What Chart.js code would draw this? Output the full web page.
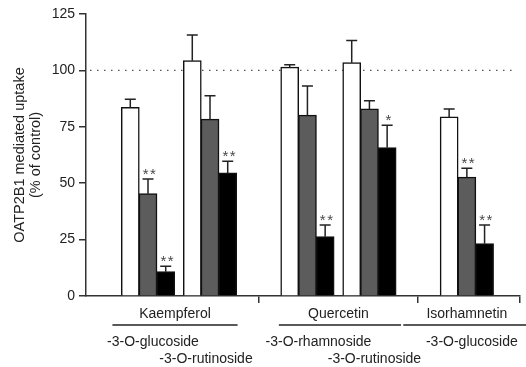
<!DOCTYPE html>
<html>
<head>
<meta charset="utf-8">
<script src="https://cdn.jsdelivr.net/npm/chart.js@4.4.1/dist/chart.umd.min.js"></script>
<style>
  html, body { margin: 0; padding: 0; background: #fff; }
  #wrap { width: 526px; height: 367px; position: relative; }
</style>
</head>
<body>
<div id="wrap"><canvas id="chart-uptake"></canvas></div>
<script>
// data (% of control, mean and upper error)
const aglycones = ['Kaempferol', 'Quercetin', 'Isorhamnetin'];
const glycosides = ['-3-O-glucoside', '-3-O-rutinoside', '-3-O-rhamnoside', '-3-O-rutinoside', '-3-O-glucoside'];
const glycosideOf = [0, 0, 1, 1, 2];

const lowValues = [83.5, 104.3, 101.4, 103.4, 79.3];
const lowErr = [3.7, 11.4, 1.1, 9.9, 3.6];
const midValues = [45.3, 78.3, 80.1, 82.9, 52.6];
const midErr = [6.6, 10.5, 13.0, 3.7, 4.0];
const highValues = [10.8, 54.5, 26.3, 65.7, 23.2];
const highErr = [2.4, 5.2, 5.2, 10.0, 8.3];
const lowSig = ['', '', '', '', ''];
const midSig = ['**', '', '', '', '**'];
const highSig = ['**', '**', '**', '*', '**'];

const yTicks = [0, 25, 50, 75, 100, 125];
const controlLevel = 100;

const FONT = 'Liberation Sans, Arial, Helvetica, sans-serif';
const INK = '#222';

// x is measured in bar widths: half a bar between glycosides, 2.5 bars between aglycones
const groupX = glycosides.map((g, i) => 3.5 + 3.5 * i + 2 * glycosideOf[i]);
const boundaries = [];
for (let a = 1; a < aglycones.length; a++) {
  const first = glycosideOf.indexOf(a);
  boundaries.push((groupX[first - 1] + groupX[first]) / 2);
}
const X_MAX = 24.5;
boundaries.push(X_MAX);

function series(label, values, err, sig, color) {
  return {
    label,
    data: groupX.map((x, i) => ({ x, y: values[i] })),
    err,
    sig,
    backgroundColor: color,
    borderColor: '#111',
    borderWidth: 1.5,
    inflateAmount: 0.5,
    barPercentage: 1,
    categoryPercentage: 3 / 3.5
  };
}

const errorBars = {
  id: 'errorBars',
  afterDatasetsDraw(chart) {
    const ctx = chart.ctx;
    const y = chart.scales.y;
    ctx.save();
    ctx.strokeStyle = INK;
    ctx.lineWidth = 1.5;
    chart.data.datasets.forEach((ds, di) => {
      const meta = chart.getDatasetMeta(di);
      meta.data.forEach((bar, i) => {
        const top = y.getPixelForValue(ds.data[i].y + ds.err[i]);
        ctx.beginPath();
        ctx.moveTo(bar.x, bar.y);
        ctx.lineTo(bar.x, top);
        ctx.moveTo(bar.x - 5.5, top);
        ctx.lineTo(bar.x + 5.5, top);
        ctx.stroke();
        if (ds.sig[i]) {
          ctx.fillStyle = '#484848';
          ctx.font = '15px ' + FONT;
          ctx.letterSpacing = '1.5px';
          ctx.textAlign = 'center';
          ctx.textBaseline = 'alphabetic';
          ctx.fillText(ds.sig[i], bar.x + 2, top);
        }
      });
    });
    ctx.restore();
  }
};

const controlLine = {
  id: 'controlLine',
  beforeDatasetsDraw(chart) {
    const { ctx, chartArea } = chart;
    const yy = chart.scales.y.getPixelForValue(controlLevel);
    ctx.save();
    ctx.strokeStyle = '#555';
    ctx.lineWidth = 1.2;
    ctx.setLineDash([1.5, 5.5]);
    ctx.beginPath();
    ctx.moveTo(chartArea.left + 4, yy);
    ctx.lineTo(chartArea.right - 8, yy);
    ctx.stroke();
    ctx.restore();
  }
};

const groupLabels = {
  id: 'groupLabels',
  afterDraw(chart) {
    const ctx = chart.ctx;
    const x = chart.scales.x;
    const unit = x.getPixelForValue(1) - x.getPixelForValue(0);
    const linePad = [[9, 1], [2, 5], [37, 34]];
    const nudge = [5, -4, 11, 5, 5];
    ctx.save();
    ctx.fillStyle = INK;
    ctx.strokeStyle = INK;
    ctx.lineWidth = 1.3;
    ctx.font = '14px ' + FONT;
    ctx.textAlign = 'center';
    ctx.textBaseline = 'alphabetic';
    aglycones.forEach((name, a) => {
      const idx = glycosideOf.map((g, i) => (g === a ? i : -1)).filter(i => i >= 0);
      const left = x.getPixelForValue(groupX[idx[0]]) - 1.5 * unit;
      const right = x.getPixelForValue(groupX[idx[idx.length - 1]]) + 1.5 * unit;
      ctx.fillText(name, (left + right) / 2 - (a === 0 ? 4 : 0), 318);
      ctx.beginPath();
      ctx.moveTo(left - linePad[a][0], 325);
      ctx.lineTo(right + linePad[a][1], 325);
      ctx.stroke();
      idx.forEach((gi, k) => {
        ctx.fillText(glycosides[gi], x.getPixelForValue(groupX[gi]) + nudge[gi], k === 0 ? 346 : 363);
      });
    });
    ctx.restore();
  }
};

Chart.defaults.font.family = FONT;
Chart.defaults.color = INK;

new Chart(document.getElementById('chart-uptake'), {
  type: 'bar',
  data: {
    datasets: [
      series('low', lowValues, lowErr, lowSig, '#ffffff'),
      series('mid', midValues, midErr, midSig, '#5c5c5c'),
      series('high', highValues, highErr, highSig, '#000000')
    ]
  },
  options: {
    responsive: true,
    maintainAspectRatio: false,
    animation: false,
    layout: { padding: { top: 14, right: 6, bottom: 0, left: 0 } },
    plugins: { legend: { display: false }, tooltip: { enabled: false } },
    scales: {
      x: {
        type: 'linear',
        min: 0,
        max: X_MAX,
        offset: false,
        afterBuildTicks: scale => { scale.ticks = boundaries.map(v => ({ value: v })); },
        afterFit: scale => { scale.height = 71; },
        ticks: { display: false },
        grid: { offset: false, drawOnChartArea: false, drawTicks: true, tickLength: 7, color: '#333', lineWidth: 1.5 },
        border: { display: true, color: '#333', width: 1.5 }
      },
      y: {
        min: 0,
        max: 125,
        afterBuildTicks: scale => { scale.ticks = yTicks.map(v => ({ value: v })); },
        afterFit: scale => { scale.width = 86; },
        ticks: { font: { size: 14 }, color: INK, padding: 4 },
        grid: { drawOnChartArea: false, drawTicks: true, tickLength: 7, color: '#333', lineWidth: 1.5 },
        border: { display: true, color: '#333', width: 1.5 },
        title: {
          display: true,
          text: ['OATP2B1 mediated uptake', '(% of control)'],
          font: { size: 14.5, lineHeight: 1.1 },
          color: INK,
          padding: { top: 12, bottom: 0 }
        }
      }
    }
  },
  plugins: [controlLine, errorBars, groupLabels]
});
</script>
</body>
</html>
